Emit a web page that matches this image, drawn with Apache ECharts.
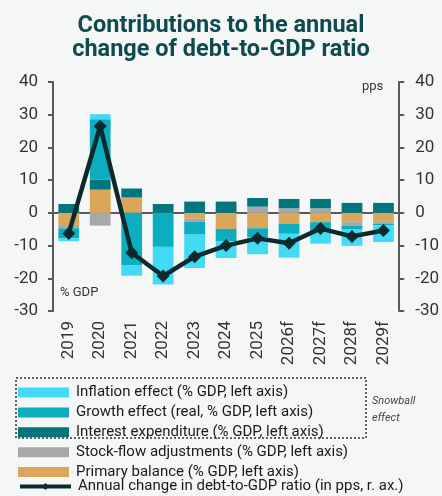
<!DOCTYPE html>
<html>
<head>
<meta charset="utf-8">
<script src="https://cdn.jsdelivr.net/npm/echarts@6/dist/echarts.min.js"></script>
<style>
  html, body { margin: 0; padding: 0; background: #f5f6f6; }
  #chart { width: 442px; height: 496px; }
</style>
</head>
<body>
<div id="chart"></div>
<script>
// categories
const years = ["2019", "2020", "2021", "2022", "2023", "2024", "2025", "2026f", "2027f", "2028f", "2029f"];
// contributions, % GDP (left axis)
const primaryBalance = [-3.7, 7.1, 4.7, 0, -1.8, -4.9, -4.7, -3.35, -2.85, -2.6, -2.6];
const stockFlow = [-1.0, -3.9, 0, 0, -1.0, 0, 1.9, 1.4, 1.4, -1.4, -0.7];
const interestExp = [2.7, 3.05, 2.75, 2.7, 3.45, 3.45, 2.65, 2.85, 2.85, 3.05, 3.05];
const growthEffect = [-3.05, 18.5, -16.1, -10.4, -3.85, -3.8, -2.85, -3.05, -3.05, -1.1, -0.5];
const inflationEffect = [-0.9, 1.5, -3.1, -11.5, -10.2, -5.1, -5.1, -7.3, -3.5, -5.0, -5.1];
// annual change in debt-to-GDP ratio, pps (right axis)
const debtChange = [-6.3, 26.5, -12.2, -19.3, -13.4, -10, -7.8, -9.3, -4.8, -7.2, -5.4];
const yTicks = { min: -30, max: 40, interval: 10 };

const names = {
  infl: "Inflation effect (% GDP, left axis)",
  growth: "Growth effect (real, % GDP, left axis)",
  interest: "Interest expenditure (% GDP, left axis)",
  sfa: "Stock-flow adjustments (% GDP, left axis)",
  primary: "Primary balance (% GDP, left axis)",
  change: "Annual change in debt-to-GDP ratio (in pps, r. ax.)"
};

const axisGray = "#5a5a5a";
const lineColor = "#0b2a2e";
const font = "Roboto, 'Open Sans', sans-serif";

function barSeries(name, data, color) {
  return {
    name: name,
    type: "bar",
    stack: "total",
    barWidth: "66%",
    itemStyle: { color: color },
    data: data
  };
}

// shared legend look
const legendBase = {
  orient: "vertical",
  left: 18,
  padding: 0,
  itemWidth: 51,
  itemHeight: 10,
  itemGap: 4.9,
  textStyle: { fontSize: 15, color: "#1a1a1a", lineHeight: 14, padding: [0, 0, 0, 2] }
};

const chart = echarts.init(document.getElementById("chart"));
chart.setOption({
  backgroundColor: "#f5f6f6",
  animation: false,
  textStyle: { fontFamily: font },
  title: {
    text: "Contributions to the annual\nchange of debt-to-GDP ratio",
    left: "center",
    top: 9,
    textStyle: { fontSize: 23.5, fontWeight: "bold", color: "#0f4a4f", lineHeight: 24, fontFamily: font }
  },
  grid: { left: 53, right: 41, top: 82, bottom: 185 },
  legend: [
    Object.assign({}, legendBase, {
      top: 385,
      data: [
        { name: names.infl, icon: "rect" },
        { name: names.growth, icon: "rect" },
        { name: names.interest, icon: "rect" },
        { name: names.sfa, icon: "rect" },
        { name: names.primary, icon: "rect" }
      ]
    }),
    Object.assign({}, legendBase, {
      top: 479,
      itemHeight: 9,
      lineStyle: { width: 4, color: lineColor },
      data: [{ name: names.change }]
    })
  ],
  xAxis: [
    {
      type: "category",
      data: years,
      axisLine: { onZero: true, lineStyle: { color: axisGray, width: 2 } },
      axisTick: { show: false },
      axisLabel: { show: false }
    },
    {
      type: "category",
      data: years,
      position: "bottom",
      axisLine: { show: false },
      axisTick: { show: false },
      axisLabel: { rotate: 90, fontSize: 17, color: "#333", margin: 10 }
    }
  ],
  yAxis: [
    {
      type: "value",
      min: yTicks.min, max: yTicks.max, interval: yTicks.interval,
      axisLine: { show: true, lineStyle: { color: axisGray, width: 2 } },
      axisTick: { show: true, length: 5, lineStyle: { color: axisGray, width: 2 } },
      axisLabel: { fontSize: 17, color: "#333", margin: 15 },
      splitLine: { show: false }
    },
    {
      type: "value",
      position: "right",
      min: yTicks.min, max: yTicks.max, interval: yTicks.interval,
      axisLine: { show: true, lineStyle: { color: axisGray, width: 2 } },
      axisTick: { show: true, length: 5, lineStyle: { color: axisGray, width: 2 } },
      axisLabel: { fontSize: 17, color: "#333", margin: 16 },
      splitLine: { show: false }
    }
  ],
  series: [
    barSeries(names.primary, primaryBalance, "#daa65a"),
    barSeries(names.sfa, stockFlow, "#a8a8a8"),
    barSeries(names.interest, interestExp, "#03757d"),
    barSeries(names.growth, growthEffect, "#0cadbf"),
    barSeries(names.infl, inflationEffect, "#43daf6"),
    {
      name: names.change,
      type: "line",
      yAxisIndex: 1,
      data: debtChange,
      symbol: "diamond",
      symbolSize: 13,
      lineStyle: { color: lineColor, width: 4.5 },
      itemStyle: { color: lineColor },
      z: 5
    }
  ],
  graphic: [
    {
      type: "text", left: 362, top: 80,
      style: { text: "pps", fontSize: 13, fill: "#333", fontFamily: font }
    },
    {
      type: "text", left: 60, top: 286,
      style: { text: "% GDP", fontSize: 13, fill: "#333", fontFamily: font }
    },
    {
      type: "rect",
      shape: { x: 16, y: 378, width: 350, height: 60 },
      style: { fill: "none", stroke: "#333", lineWidth: 1.5, lineDash: [2, 2] }
    },
    {
      type: "text", left: 372, top: 393,
      style: { text: "Snowball\neffect", fontSize: 11, fontStyle: "italic", fill: "#444", lineHeight: 17, fontFamily: font }
    }
  ]
});
</script>
</body>
</html>
